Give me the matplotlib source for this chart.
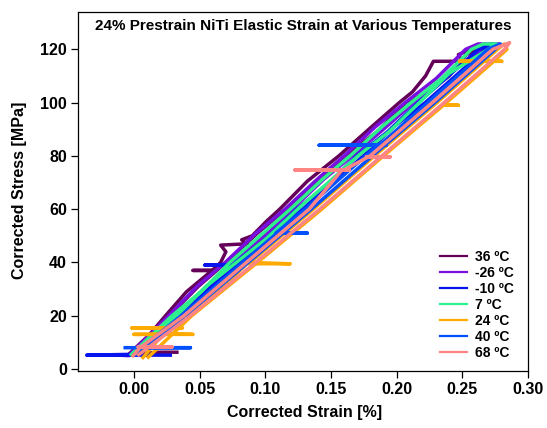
import matplotlib
matplotlib.use("Agg")
import matplotlib.pyplot as plt
from matplotlib.lines import Line2D

plt.rcParams['font.family'] = ['Liberation Sans', 'DejaVu Sans']
plt.rcParams['font.weight'] = 'bold'

# temperature labels and trace colours
labels = ['36 ºC', '-26 ºC', '-10 ºC', '7 ºC', '24 ºC', '40 ºC', '68 ºC']
colors = ['#640058', '#7a10e0', '#0814ee', '#2ef08c', '#ffaa00', '#0050ff', '#ff8484']

# corrected strain [%] / corrected stress [MPa], one load-unload trace each
strain_36 = [0.034, 0.020, -0.004, 0.012, 0.024, 0.040, 0.0595, 0.045, 0.0595, 0.066, 0.070, 0.066, 0.086,
             0.082, 0.090, 0.101, 0.111, 0.132, 0.156, 0.180, 0.202, 0.212, 0.222, 0.228, 0.250, 0.247,
             0.262, 0.270, 0.253, 0.240, 0.224, 0.207, 0.185, 0.161, 0.140, 0.116, 0.094, 0.070, 0.049,
             0.027, 0.004]
stress_36 = [6.3, 6.3, 5.5, 13, 20, 29, 37, 37, 37, 40, 44, 46.5, 47,
             48.5, 50, 55.5, 60, 70.5, 80, 90.5, 100, 104, 110, 115.5, 115.5, 118,
             121, 121.5, 118, 110, 104, 100, 89, 80, 71, 60, 51, 40, 31,
             20, 6]

strain_m26 = [0.004, -0.011, -0.004, 0.0265, 0.048, 0.0695, 0.093, 0.115, 0.139, 0.160, 0.184, 0.2065,
              0.230, 0.2525, 0.262, 0.278, 0.2588, 0.236, 0.2128, 0.190, 0.1662, 0.144, 0.1206, 0.097,
              0.0744, 0.052, 0.030, -0.0026]
stress_m26 = [5.2, 5.2, 5, 20, 31, 40, 51, 60, 71, 80, 91, 100,
              109, 120, 122, 122, 118, 109, 100, 90, 80, 71, 60, 49,
              40, 29, 20, 5]

strain_m10 = [0.029, -0.036, -0.002, 0.032, 0.075, 0.054, 0.075, 0.0772, 0.101, 0.1238, 0.147, 0.1696,
              0.193, 0.2164, 0.2624, 0.272, 0.2678, 0.2218, 0.198, 0.1747, 0.1286, 0.105, 0.0814, 0.035,
              -0.0006]
stress_m10 = [5.2, 5.2, 5.5, 20, 39, 39, 39, 40, 49, 60, 69, 80,
              89, 100, 120, 122, 120, 100, 91, 80, 60, 51, 40, 20,
              5]

strain_7 = [-0.003, 0.029, 0.051, 0.073, 0.096, 0.119, 0.143, 0.1645, 0.189, 0.211, 0.234, 0.257, 0.266,
            0.276, 0.2633, 0.240, 0.2173, 0.194, 0.1705, 0.148, 0.1246, 0.101, 0.0779, 0.055, 0.0325,
            -0.0016]
stress_7 = [5, 20, 29, 40, 50, 60, 71, 80, 91, 100, 109, 120, 122,
            122, 118, 111, 100, 89, 80, 70, 60, 49, 40, 31, 20,
            5]

strain_24 = [0.006, 0.022, 0.000, 0.045, 0.022, 0.028, -0.0015, 0.037, 0.030, 0.040, 0.064, 0.086, 0.119,
             0.0884, 0.1366, 0.1832, 0.2308, 0.2768, 0.282, 0.284, 0.274, 0.248, 0.280, 0.274, 0.2356,
             0.247, 0.2356, 0.190, 0.143, 0.094, 0.044, 0.010]
stress_24 = [3.8, 13, 13, 13, 13.2, 15.4, 15.4, 15.4, 16, 20, 29, 39.5, 39.5,
             40, 60, 80, 100, 120, 122, 120, 115.5, 115.5, 115.5, 115.5, 99,
             99, 99, 80, 60, 40, 20, 4]

strain_40 = [-0.008, 0.043, 0.006, 0.036, 0.0828, 0.109, 0.132, 0.108, 0.1302, 0.1764, 0.186, 0.141, 0.192,
             0.187, 0.2236, 0.2696, 0.279, 0.275, 0.229, 0.1815, 0.135, 0.087, 0.039, 0.001]
stress_40 = [8, 8, 8, 20, 40, 51, 51, 51, 60, 80, 84, 84, 84,
             84, 100, 120, 122, 120, 100, 80, 60, 40, 20, 5]

strain_68 = [-0.0015, 0.005, 0.029, 0.003, 0.006, 0.038, 0.0856, 0.1334, 0.1585, 0.1225, 0.164, 0.160,
             0.1798, 0.2272, 0.2732, 0.286, 0.2822, 0.2362, 0.1878, 0.195, 0.177, 0.1878, 0.1414, 0.0926,
             0.043, 0.0026]
stress_68 = [4.5, 8.3, 8.3, 8.3, 8.5, 20, 40, 60, 74.7, 74.7, 74.7, 74.7,
             80, 100, 120, 122.5, 120, 100, 79.6, 79.6, 79.6, 79.6, 60, 40,
             20, 5]

strains = [strain_36, strain_m26, strain_m10, strain_7, strain_24, strain_40, strain_68]
stresses = [stress_36, stress_m26, stress_m10, stress_7, stress_24, stress_40, stress_68]

fig = plt.figure(figsize=(5.47, 4.28), dpi=100)
ax = fig.add_axes([78 / 547, 1 - 371 / 428, 450 / 547, 359 / 428])

for x, y, c in zip(strains, stresses, colors):
    ax.plot(x, y, color=c, lw=2.5, solid_joinstyle='round', solid_capstyle='butt')

ax.set_xlim(-0.0426, 0.30)
ax.set_ylim(-0.75, 134)
ax.set_xticks([0.00, 0.05, 0.10, 0.15, 0.20, 0.25, 0.30])
ax.set_xticklabels(['%.2f' % v for v in ax.get_xticks()])
ax.set_yticks(range(0, 121, 20))
ax.tick_params(direction='out', length=5, width=0.9, labelsize=11.5, pad=3)
for s in ax.spines.values():
    s.set_linewidth(0.9)

ax.text(0.5, 0.96, '24% Prestrain NiTi Elastic Strain at Various Temperatures',
        transform=ax.transAxes, ha='center', va='center', fontsize=11, fontweight='bold')
fig.text(305 / 547, 1 - 412 / 428, 'Corrected Strain [%]', ha='center', va='center',
         fontsize=11.5, fontweight='bold')
fig.text(20 / 547, 1 - 190 / 428, 'Corrected Stress [MPa]', ha='center', va='center',
         rotation=90, fontsize=11.5, fontweight='bold')

handles = [Line2D([], [], color=c, lw=1.6) for c in colors]
ax.legend(handles, labels, loc='upper left', bbox_to_anchor=(0.805, 0.338), frameon=False,
          fontsize=10, handlelength=1.9, handletextpad=0.6, labelspacing=0.15,
          borderaxespad=0, borderpad=0)

fig.savefig('out.png', dpi=100)
